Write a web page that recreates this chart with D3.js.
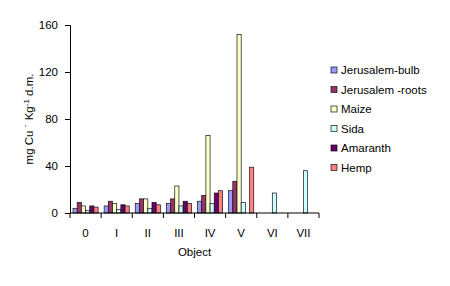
<!DOCTYPE html>
<html>
<head>
<meta charset="utf-8">
<script src="https://cdn.jsdelivr.net/npm/d3@7"></script>
<style>
  body { margin: 0; background: #fff; }
  svg { display: block; font-family: "Liberation Sans", Arial, sans-serif; }
</style>
</head>
<body>
<div id="chart"></div>
<script>
const categories = ['0', 'I', 'II', 'III', 'IV', 'V', 'VI', 'VII'];
const seriesNames = ['Jerusalem-bulb', 'Jerusalem -roots', 'Maize', 'Sida', 'Amaranth', 'Hemp'];
const jerusalemBulb = [4, 6, 8, 8, 10, 19, null, null];
const jerusalemRoots = [9, 10, 12, 12, 15, 27, null, null];
const maize = [6, 8, 12, 23, 66, 152, null, null];
const sida = [2, 3, 4, 6, 8, 9, 17, 36];
const amaranth = [6, 7, 9, 10, 17, null, null, null];
const hemp = [5, 6, 7, 8, 19, 39, null, null];
const yTicks = [0, 40, 80, 120, 160];
const colors = ['#9999FF', '#993366', '#FFFFCC', '#CCFFFF', '#660066', '#FF8080'];

const allSeries = [jerusalemBulb, jerusalemRoots, maize, sida, amaranth, hemp];

const width = 450, height = 286;
const margin = { left: 70, right: 131, top: 25, bottom: 73 };

const svg = d3.select('#chart').append('svg')
    .attr('width', width)
    .attr('height', height);

const x = d3.scaleBand()
    .domain(categories)
    .range([margin.left, width - margin.right])
    .padding(0);

const xInner = d3.scaleBand()
    .domain(seriesNames)
    .range([3, x.bandwidth() - 3])
    .padding(0);

const y = d3.scaleLinear()
    .domain([0, 160])
    .range([height - margin.bottom, margin.top]);

// bars
const bars = [];
allSeries.forEach((vals, si) => {
    vals.forEach((v, ci) => {
        if (v != null) bars.push({ cat: categories[ci], name: seriesNames[si], value: v, color: colors[si] });
    });
});

svg.append('g').selectAll('rect')
    .data(bars)
    .enter().append('rect')
    .attr('x', d => x(d.cat) + xInner(d.name))
    .attr('y', d => y(d.value))
    .attr('width', xInner.bandwidth())
    .attr('height', d => y(0) - y(d.value))
    .attr('fill', d => d.color)
    .attr('stroke', '#111')
    .attr('stroke-width', 0.7);

// y axis
const yAxis = svg.append('g')
    .attr('transform', `translate(${margin.left},0)`)
    .call(d3.axisLeft(y).tickValues(yTicks).tickSize(5).tickPadding(7));
yAxis.selectAll('text').style('font-size', '11.5px').style('fill', '#000');
yAxis.selectAll('line, path').attr('stroke', '#000');

// x axis with ticks at band edges
const xAxisG = svg.append('g')
    .attr('transform', `translate(0,${y(0)})`);
xAxisG.append('line')
    .attr('x1', margin.left).attr('x2', width - margin.right)
    .attr('stroke', '#000');
const edges = categories.map(c => x(c)).concat([x(categories[categories.length - 1]) + x.bandwidth()]);
xAxisG.selectAll('line.tick')
    .data(edges)
    .enter().append('line')
    .attr('class', 'tick')
    .attr('x1', d => d).attr('x2', d => d)
    .attr('y1', 0).attr('y2', 5)
    .attr('stroke', '#000');
xAxisG.selectAll('text')
    .data(categories)
    .enter().append('text')
    .attr('x', d => x(d) + x.bandwidth() / 2)
    .attr('y', 24)
    .attr('text-anchor', 'middle')
    .style('font-size', '11.5px')
    .text(d => d);

// axis titles
svg.append('text')
    .attr('x', (margin.left + width - margin.right) / 2)
    .attr('y', 256)
    .attr('text-anchor', 'middle')
    .style('font-size', '11.5px')
    .text('Object');

const yTitle = svg.append('text')
    .attr('transform', `translate(33,${(y(0) + y(160)) / 2}) rotate(-90)`)
    .attr('text-anchor', 'middle')
    .style('font-size', '11.5px');
yTitle.append('tspan').text('mg Cu \u02d9 Kg');
yTitle.append('tspan').attr('dy', -4).style('font-size', '8px').text('-1');
yTitle.append('tspan').attr('dy', 4).text(' d.m.');

// legend
const legend = svg.append('g');
const ly = d3.scalePoint().domain(seriesNames).range([70, 167.5]);
const item = legend.selectAll('g')
    .data(seriesNames)
    .enter().append('g')
    .attr('transform', d => `translate(331,${ly(d)})`);
item.append('rect')
    .attr('x', 0).attr('y', -3)
    .attr('width', 6).attr('height', 6)
    .attr('fill', (d, i) => colors[i])
    .attr('stroke', '#111')
    .attr('stroke-width', 0.7);
item.append('text')
    .attr('x', 10)
    .attr('y', 4)
    .style('font-size', '11.5px')
    .text(d => d);
</script>
</body>
</html>
